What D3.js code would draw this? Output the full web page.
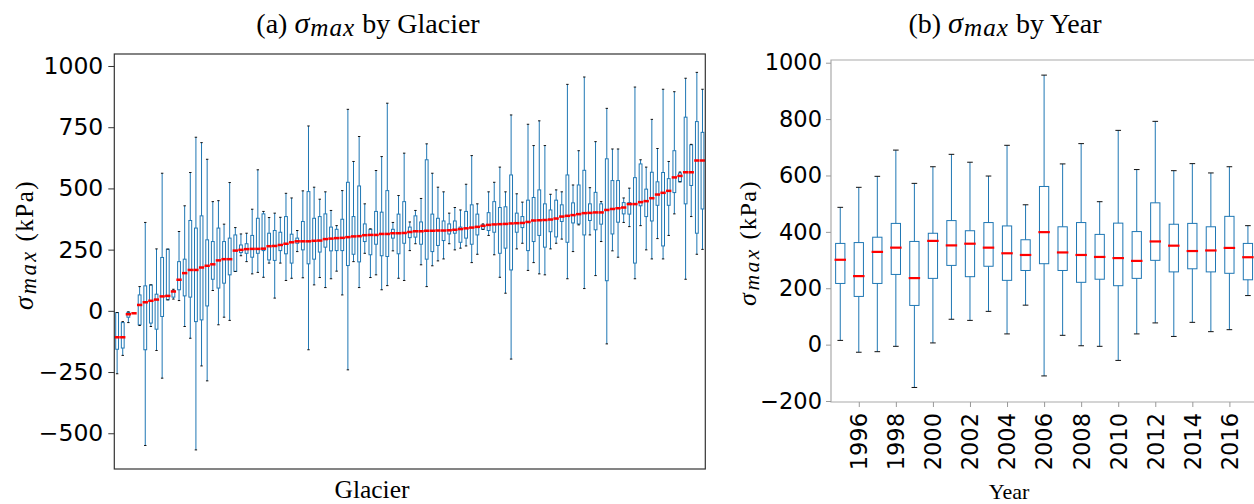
<!DOCTYPE html>
<html>
<head>
<meta charset="utf-8">
<script src="https://cdn.jsdelivr.net/npm/d3@7"></script>
<style>
  html, body { margin: 0; padding: 0; background: #fff; }
  svg { display: block; }
</style>
</head>
<body>
<svg id="chart" width="1254" height="504"></svg>
<script>
// ---------- Panel (a): sigma_max by glacier (sorted by median) ----------
const glacierLow  = [-257,-182,-48,-10,-60,-550,-64,-162,-275,45,48,42,-64,-112,-568,-225,-286,83,-57,-26,-39,161,225,201,151,157,137,195,52,195,124,133,242,135,-159,106,136,95,131,162,65,-241,201,95,235,136,147,86,103,245,133,124,246,274,188,99,184,204,212,274,249,256,265,197,231,333,308,229,137,72,-197,253,276,165,197,151,147,253,276,293,131,242,351,91,310,144,283,-135,245,219,361,344,131,348,249,212,295,212,308,396,527,129,385,231,251];
const glacierQ1   = [-157,-152,-26,-10,-57,-159,-50,-75,-23,45,56,86,61,56,-44,-37,20,129,93,113,147,161,238,235,219,235,246,208,206,246,233,195,276,249,192,211,240,260,245,246,246,185,231,200,283,229,272,225,222,297,233,276,299,301,272,211,242,267,287,314,317,280,297,272,310,333,328,321,235,256,167,321,340,246,283,308,260,323,302,365,280,359,355,310,369,331,354,123,314,362,396,395,195,429,385,367,431,265,431,483,527,437,512,317,416];
const glacierMed  = [-108,-108,-14,-10,24,35,41,46,59,61,79,127,154,167,167,177,184,190,206,211,211,246,249,252,253,253,254,264,265,269,274,280,284,284,284,286,287,293,295,297,298,301,304,305,309,310,310,314,314,317,317,318,322,325,325,327,327,328,328,329,331,334,337,340,343,347,351,353,354,355,357,358,359,363,369,370,371,373,377,385,388,391,395,399,400,402,402,412,416,419,422,436,436,444,448,460,475,482,490,545,551,566,566,614,614];
const glacierQ3   = [-7,-48,-6,-10,65,102,106,68,218,252,83,201,211,369,338,388,290,283,338,283,297,310,269,274,308,378,396,317,328,321,385,313,297,365,487,378,385,396,342,333,374,525,385,510,355,333,406,403,491,333,395,446,342,388,363,617,395,378,367,355,367,342,406,433,395,351,401,446,422,425,555,399,385,452,463,494,437,412,452,433,555,441,514,574,437,484,437,621,532,532,442,442,544,600,497,566,527,565,540,654,563,791,678,773,729];
const glacierHigh = [-7,-44,-4,-10,99,361,106,253,562,252,88,324,429,565,709,687,619,446,450,354,524,340,314,317,415,576,406,381,399,382,480,461,328,490,755,505,456,486,410,348,491,823,610,712,437,335,573,630,848,361,471,644,363,410,459,682,562,505,486,399,422,412,517,634,437,355,486,525,587,486,800,478,444,762,675,776,675,476,494,486,925,514,654,955,503,691,446,827,661,661,461,501,914,617,587,782,663,905,610,895,567,950,680,974,905];
const glacierTicks = [-500, -250, 0, 250, 500, 750, 1000];

// ---------- Panel (b): sigma_max by year ----------
const years    = [1995,1996,1997,1998,1999,2000,2001,2002,2003,2004,2005,2006,2007,2008,2009,2010,2011,2012,2013,2014,2015,2016,2017];
const yearLow  = [15,-27,-25,-6,-152,6,90,86,118,38,140,-111,33,-4,-6,-56,38,77,29,79,46,53,174];
const yearQ1   = [217,171,217,249,139,235,281,241,278,228,263,287,263,221,232,209,235,299,258,269,258,253,230];
const yearMed  = [301,243,329,344,236,368,352,358,344,324,318,399,327,318,311,307,297,366,351,332,334,343,310];
const yearQ3   = [359,362,381,430,366,395,440,404,433,421,372,561,418,433,391,431,401,503,427,430,418,455,359];
const yearHigh = [487,558,597,690,572,631,675,647,598,707,496,956,641,713,507,760,621,792,617,642,609,631,422];
const yearTicks = [-200, 0, 200, 400, 600, 800, 1000];
const yearLabelTicks = [1996,1998,2000,2002,2004,2006,2008,2010,2012,2014,2016];

const BLUE = "#1f77b4", RED = "#ff0000";
const svg = d3.select("#chart");
const fmt = d => (d < 0 ? "\u2212" + Math.abs(d) : String(d));

function drawBoxes(g, n, x, y, low, q1, med, q3, high, medW) {
  const idx = d3.range(n);
  const hw = 0.25;
  const grp = g.append("g");
  grp.selectAll(".wl").data(idx).join("line")
    .attr("x1", i => x(i + 1)).attr("x2", i => x(i + 1))
    .attr("y1", i => y(q1[i])).attr("y2", i => y(low[i]))
    .attr("stroke", BLUE).attr("stroke-width", 1);
  grp.selectAll(".wh").data(idx).join("line")
    .attr("x1", i => x(i + 1)).attr("x2", i => x(i + 1))
    .attr("y1", i => y(q3[i])).attr("y2", i => y(high[i]))
    .attr("stroke", BLUE).attr("stroke-width", 1);
  grp.selectAll(".bx").data(idx).join("rect")
    .attr("x", i => x(i + 1 - hw)).attr("width", i => x(i + 1 + hw) - x(i + 1 - hw))
    .attr("y", i => y(q3[i])).attr("height", i => Math.max(0, y(q1[i]) - y(q3[i])))
    .attr("fill", "none").attr("stroke", BLUE).attr("stroke-width", 1);
  [low, high].forEach(arr => {
    grp.append("g").selectAll("line").data(idx).join("line")
      .attr("x1", i => x(i + 1 - hw / 2)).attr("x2", i => x(i + 1 + hw / 2))
      .attr("y1", i => y(arr[i])).attr("y2", i => y(arr[i]))
      .attr("stroke", "#111").attr("stroke-width", 1).attr("stroke-linecap", "square");
  });
  grp.append("g").selectAll("line").data(idx).join("line")
    .attr("x1", i => x(i + 1 - hw)).attr("x2", i => x(i + 1 + hw))
    .attr("y1", i => y(med[i])).attr("y2", i => y(med[i]))
    .attr("stroke", RED).attr("stroke-width", medW).attr("stroke-linecap", "square");
}

// sigma_max math text: italic sigma with a lowered, slightly smaller italic "max"
function sigmaText(sel, prefix, suffix, size, spacing) {
  sel.append("tspan").text(prefix);
  sel.append("tspan").attr("font-style", "italic").attr("font-size", size * 1.08)
    .attr("letter-spacing", spacing).text("\u03c3");
  sel.append("tspan").attr("font-style", "italic").attr("font-size", size * 0.9)
    .attr("letter-spacing", spacing).attr("dy", size * 0.12).text("max");
  sel.append("tspan").attr("dy", -size * 0.12).text(suffix);
}

// ===== Left panel =====
const nG = glacierMed.length;
const xL = d3.scaleLinear().domain([0.5, nG + 0.5]).range([114.3, 705.3]);
const yL = d3.scaleLinear().domain([-646, 1049]).range([469, 54]);
const gL = svg.append("g");
drawBoxes(gL, nG, xL, yL, glacierLow, glacierQ1, glacierMed, glacierQ3, glacierHigh, 2.5);
gL.append("rect").attr("x", 114.3).attr("y", 54).attr("width", 705.3 - 114.3).attr("height", 469 - 54)
  .attr("fill", "none").attr("stroke", "#333").attr("stroke-width", 1.2);
const axL = gL.append("g").attr("transform", "translate(114.3,0)")
  .call(d3.axisLeft(yL).tickValues(glacierTicks).tickFormat(fmt).tickSize(6).tickPadding(5));
axL.select(".domain").remove();
axL.selectAll(".tick line").attr("stroke", "#333");
axL.selectAll(".tick text").attr("font-family", "DejaVu Sans").attr("font-size", 23.5).attr("fill", "#000");

const tA = svg.append("text").attr("x", 368).attr("y", 33).attr("text-anchor", "middle")
  .attr("font-family", "Liberation Serif").attr("font-size", 28).attr("fill", "#000");
sigmaText(tA, "(a) ", " by Glacier", 28, 1);
svg.append("text").attr("x", 372).attr("y", 498).attr("text-anchor", "middle")
  .attr("font-family", "Liberation Serif").attr("font-size", 25.5).text("Glacier");
const ylA = svg.append("text").attr("transform", "translate(33,245) rotate(-90)").attr("text-anchor", "middle")
  .attr("font-family", "Liberation Serif").attr("font-size", 25).attr("letter-spacing", 1.5);
sigmaText(ylA, "", " (kPa)", 25, 2.5);

// ===== Right panel =====
const nY = years.length;
const xR = d3.scaleLinear().domain([0.5, nY + 0.5]).range([831, 831 + nY * 18.53]);
const yR = d3.scaleLinear().domain([-203.5, 1009.6]).range([402, 60]);
const gR = svg.append("g");
drawBoxes(gR, nY, xR, yR, yearLow, yearQ1, yearMed, yearQ3, yearHigh, 2.2);
gR.append("path").attr("d", `M${xR(nY + 0.5)},60H831V402H${xR(nY + 0.5)}`)
  .attr("fill", "none").attr("stroke", "#aaa").attr("stroke-width", 1.2);
const axRy = gR.append("g").attr("transform", "translate(831,0)")
  .call(d3.axisLeft(yR).tickValues(yearTicks).tickFormat(fmt).tickSize(5).tickPadding(4));
axRy.select(".domain").remove();
axRy.selectAll(".tick line").attr("stroke", "#999");
axRy.selectAll(".tick text").attr("font-family", "DejaVu Sans").attr("font-size", 22.5).attr("fill", "#000");

const yearPos = d3.scalePoint().domain(years).range([1, nY]);
const axRx = gR.append("g").attr("transform", "translate(0,402)")
  .call(d3.axisBottom(xR).tickValues(yearLabelTicks.map(d => yearPos(d))).tickFormat(v => years[Math.round(v) - 1]).tickSize(5).tickPadding(4));
axRx.select(".domain").remove();
axRx.selectAll(".tick line").attr("stroke", "#999");
axRx.selectAll(".tick text").attr("font-family", "DejaVu Sans").attr("font-size", 22.5).attr("fill", "#000")
  .attr("transform", "rotate(-90)").attr("text-anchor", "end").attr("x", -11).attr("y", 0).attr("dy", "0.35em");

const tB = svg.append("text").attr("x", 1005).attr("y", 33).attr("text-anchor", "middle")
  .attr("font-family", "Liberation Serif").attr("font-size", 28).attr("fill", "#000");
sigmaText(tB, "(b) ", " by Year", 28, 1);
svg.append("text").attr("x", 1009).attr("y", 499).attr("text-anchor", "middle")
  .attr("font-family", "Liberation Serif").attr("font-size", 22).text("Year");
const ylB = svg.append("text").attr("transform", "translate(756,243) rotate(-90)").attr("text-anchor", "middle")
  .attr("font-family", "Liberation Serif").attr("font-size", 24).attr("letter-spacing", 1.5);
sigmaText(ylB, "", " (kPa)", 24, 2.5);
</script>
</body>
</html>
